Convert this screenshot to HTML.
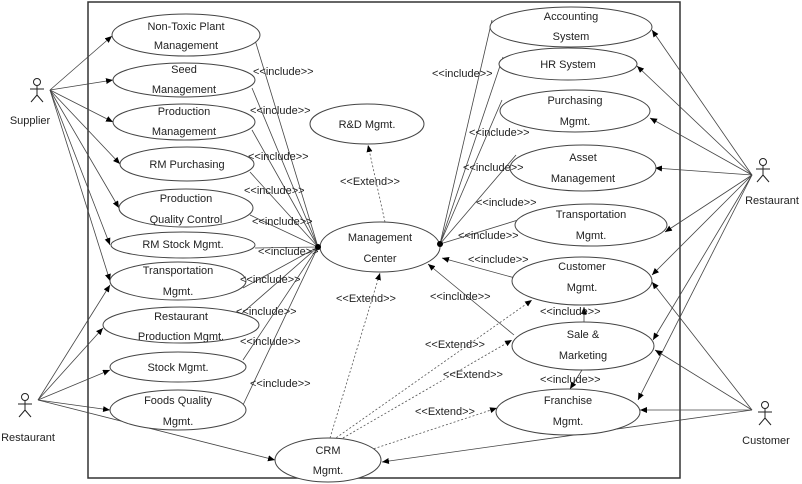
<!DOCTYPE html>
<html><head><style>
html,body{margin:0;padding:0;background:#fff;}
svg{display:block;}
text{font-family:"Liberation Sans",sans-serif;font-size:11px;fill:#222;}
</style></head><body>
<svg width="802" height="484" viewBox="0 0 802 484" xmlns="http://www.w3.org/2000/svg">
<defs>
<marker id="a" markerWidth="8" markerHeight="8" refX="7" refY="3" orient="auto" markerUnits="userSpaceOnUse"><path d="M0,0 L7,3 L0,6 z" fill="#000"/></marker>
</defs>
<rect x="88" y="2" width="592" height="476" fill="none" stroke="#333" stroke-width="1.5"/>
<g fill="none" stroke="#444" stroke-width="0.8">
<!-- supplier -->
<line x1="50" y1="90" x2="112" y2="36" marker-end="url(#a)"/>
<line x1="50" y1="90" x2="113" y2="80" marker-end="url(#a)"/>
<line x1="50" y1="90" x2="113" y2="122" marker-end="url(#a)"/>
<line x1="50" y1="90" x2="120" y2="164" marker-end="url(#a)"/>
<line x1="50" y1="90" x2="119" y2="208" marker-end="url(#a)"/>
<line x1="50" y1="90" x2="110" y2="245" marker-end="url(#a)"/>
<line x1="50" y1="90" x2="110" y2="281" marker-end="url(#a)"/>
<!-- left restaurant -->
<line x1="38" y1="400" x2="110" y2="285" marker-end="url(#a)"/>
<line x1="38" y1="400" x2="103" y2="328" marker-end="url(#a)"/>
<line x1="38" y1="400" x2="110" y2="370" marker-end="url(#a)"/>
<line x1="38" y1="400" x2="110" y2="410" marker-end="url(#a)"/>
<line x1="38" y1="400" x2="275" y2="460" marker-end="url(#a)"/>
<!-- right restaurant -->
<line x1="752" y1="175" x2="652" y2="30" marker-end="url(#a)"/>
<line x1="752" y1="175" x2="637" y2="66" marker-end="url(#a)"/>
<line x1="752" y1="175" x2="650" y2="118" marker-end="url(#a)"/>
<line x1="752" y1="175" x2="655" y2="168" marker-end="url(#a)"/>
<line x1="752" y1="175" x2="665" y2="232" marker-end="url(#a)"/>
<line x1="752" y1="175" x2="652" y2="275" marker-end="url(#a)"/>
<line x1="752" y1="175" x2="653" y2="340" marker-end="url(#a)"/>
<line x1="752" y1="175" x2="638" y2="400" marker-end="url(#a)"/>
<!-- customer -->
<line x1="752" y1="410" x2="652" y2="282" marker-end="url(#a)"/>
<line x1="752" y1="410" x2="655" y2="350" marker-end="url(#a)"/>
<line x1="752" y1="410" x2="640" y2="410" marker-end="url(#a)"/>
<line x1="752" y1="410" x2="382" y2="462" marker-end="url(#a)"/>
<!-- includes left -->
<line x1="255" y1="40" x2="318" y2="247"/>
<line x1="252" y1="88" x2="318" y2="247"/>
<line x1="252" y1="130" x2="318" y2="247"/>
<line x1="250" y1="172" x2="318" y2="247"/>
<line x1="250" y1="215" x2="318" y2="247"/>
<line x1="255" y1="248" x2="318" y2="247"/>
<line x1="243" y1="288" x2="318" y2="247"/>
<line x1="240" y1="315" x2="318" y2="247"/>
<line x1="243" y1="360" x2="318" y2="247"/>
<line x1="243" y1="405" x2="318" y2="247"/>
<!-- includes right -->
<line x1="492" y1="20" x2="440" y2="244"/>
<line x1="503" y1="57" x2="440" y2="244"/>
<line x1="502" y1="100" x2="440" y2="244"/>
<line x1="516" y1="155" x2="440" y2="244"/>
<line x1="518" y1="220" x2="440" y2="244"/>
<line x1="515" y1="278" x2="442" y2="258" marker-end="url(#a)"/>
<line x1="514" y1="335" x2="428" y2="264" marker-end="url(#a)"/>
<line x1="584" y1="322" x2="584" y2="307" marker-end="url(#a)"/>
<line x1="582" y1="370" x2="570" y2="389" marker-end="url(#a)"/>
</g>
<g fill="none" stroke="#555" stroke-width="0.8" stroke-dasharray="2,2">
<line x1="385" y1="222" x2="368" y2="145" marker-end="url(#a)"/>
<line x1="330" y1="438" x2="380" y2="273" marker-end="url(#a)"/>
<line x1="333" y1="440" x2="532" y2="300" marker-end="url(#a)"/>
<line x1="336" y1="442" x2="512" y2="340" marker-end="url(#a)"/>
<line x1="370" y1="450" x2="497" y2="408" marker-end="url(#a)"/>
</g>
<g fill="#fff" stroke="#444" stroke-width="1">
<ellipse cx="186" cy="35" rx="74" ry="21"/>
<ellipse cx="184" cy="80" rx="71" ry="17"/>
<ellipse cx="184" cy="122" rx="71" ry="18"/>
<ellipse cx="187" cy="164" rx="67" ry="17"/>
<ellipse cx="186" cy="208" rx="67" ry="19"/>
<ellipse cx="183" cy="245" rx="72" ry="13"/>
<ellipse cx="178" cy="281" rx="68" ry="19"/>
<ellipse cx="181" cy="325" rx="78" ry="18"/>
<ellipse cx="178" cy="367" rx="68" ry="15"/>
<ellipse cx="178" cy="410" rx="68" ry="20"/>
<ellipse cx="328" cy="460" rx="53" ry="22"/>
<ellipse cx="367" cy="124" rx="57" ry="20"/>
<ellipse cx="380" cy="247" rx="60" ry="25"/>
<ellipse cx="571" cy="27" rx="81" ry="20"/>
<ellipse cx="568" cy="64" rx="69" ry="16"/>
<ellipse cx="575" cy="111" rx="75" ry="21"/>
<ellipse cx="583" cy="168" rx="73" ry="23"/>
<ellipse cx="591" cy="225" rx="76" ry="21"/>
<ellipse cx="582" cy="281" rx="70" ry="24"/>
<ellipse cx="583" cy="346" rx="71" ry="24"/>
<ellipse cx="568" cy="412" rx="72" ry="23"/>
</g>
<circle cx="318" cy="247" r="3" fill="#000"/><circle cx="440" cy="244" r="3" fill="#000"/>
<g text-anchor="middle">
<text x="186" y="30">Non-Toxic Plant</text><text x="186" y="49">Management</text>
<text x="184" y="73">Seed</text><text x="184" y="93">Management</text>
<text x="184" y="115">Production</text><text x="184" y="135">Management</text>
<text x="187" y="168">RM Purchasing</text>
<text x="186" y="202">Production</text><text x="186" y="223">Quality Control</text>
<text x="183" y="248">RM Stock Mgmt.</text>
<text x="178" y="274">Transportation</text><text x="178" y="295">Mgmt.</text>
<text x="181" y="320">Restaurant</text><text x="181" y="340">Production Mgmt.</text>
<text x="178" y="371">Stock Mgmt.</text>
<text x="178" y="404">Foods Quality</text><text x="178" y="425">Mgmt.</text>
<text x="328" y="454">CRM</text><text x="328" y="474">Mgmt.</text>
<text x="367" y="128">R&amp;D Mgmt.</text>
<text x="380" y="241">Management</text><text x="380" y="262">Center</text>
<text x="571" y="20">Accounting</text><text x="571" y="40">System</text>
<text x="568" y="68">HR System</text>
<text x="575" y="104">Purchasing</text><text x="575" y="125">Mgmt.</text>
<text x="583" y="161">Asset</text><text x="583" y="182">Management</text>
<text x="591" y="218">Transportation</text><text x="591" y="239">Mgmt.</text>
<text x="582" y="270">Customer</text><text x="582" y="291">Mgmt.</text>
<text x="583" y="338">Sale &amp;</text><text x="583" y="359">Marketing</text>
<text x="568" y="404">Franchise</text><text x="568" y="425">Mgmt.</text>
<text x="30" y="124">Supplier</text>
<text x="28" y="441">Restaurant</text>
<text x="772" y="204">Restaurant</text>
<text x="766" y="444">Customer</text>
</g>
<g font-size="10">
<text x="253" y="75">&lt;&lt;include&gt;&gt;</text>
<text x="250" y="114">&lt;&lt;include&gt;&gt;</text>
<text x="248" y="160">&lt;&lt;include&gt;&gt;</text>
<text x="244" y="194">&lt;&lt;include&gt;&gt;</text>
<text x="252" y="225">&lt;&lt;include&gt;&gt;</text>
<text x="258" y="255">&lt;&lt;include&gt;&gt;</text>
<text x="240" y="283">&lt;&lt;include&gt;&gt;</text>
<text x="236" y="315">&lt;&lt;include&gt;&gt;</text>
<text x="240" y="345">&lt;&lt;include&gt;&gt;</text>
<text x="250" y="387">&lt;&lt;include&gt;&gt;</text>
<text x="340" y="185">&lt;&lt;Extend&gt;&gt;</text>
<text x="336" y="302">&lt;&lt;Extend&gt;&gt;</text>
<text x="432" y="77">&lt;&lt;include&gt;&gt;</text>
<text x="469" y="136">&lt;&lt;include&gt;&gt;</text>
<text x="463" y="171">&lt;&lt;include&gt;&gt;</text>
<text x="476" y="206">&lt;&lt;include&gt;&gt;</text>
<text x="458" y="239">&lt;&lt;include&gt;&gt;</text>
<text x="468" y="263">&lt;&lt;include&gt;&gt;</text>
<text x="430" y="300">&lt;&lt;include&gt;&gt;</text>
<text x="540" y="315">&lt;&lt;include&gt;&gt;</text>
<text x="540" y="383">&lt;&lt;include&gt;&gt;</text>
<text x="425" y="348">&lt;&lt;Extend&gt;&gt;</text>
<text x="443" y="378">&lt;&lt;Extend&gt;&gt;</text>
<text x="415" y="415">&lt;&lt;Extend&gt;&gt;</text>
</g>
<g fill="none" stroke="#222" stroke-width="1">
<circle cx="37" cy="82" r="3.5"/><line x1="37" y1="86" x2="37" y2="95"/><line x1="30" y1="89" x2="44" y2="89"/><line x1="37" y1="95" x2="31" y2="102"/><line x1="37" y1="95" x2="43" y2="102"/>
<circle cx="25" cy="397" r="3.5"/><line x1="25" y1="401" x2="25" y2="410"/><line x1="18" y1="404" x2="32" y2="404"/><line x1="25" y1="410" x2="19" y2="417"/><line x1="25" y1="410" x2="31" y2="417"/>
<circle cx="763" cy="162" r="3.5"/><line x1="763" y1="166" x2="763" y2="175"/><line x1="756" y1="169" x2="770" y2="169"/><line x1="763" y1="175" x2="757" y2="182"/><line x1="763" y1="175" x2="769" y2="182"/>
<circle cx="765" cy="405" r="3.5"/><line x1="765" y1="409" x2="765" y2="418"/><line x1="758" y1="412" x2="772" y2="412"/><line x1="765" y1="418" x2="759" y2="425"/><line x1="765" y1="418" x2="771" y2="425"/>
</g>
</svg>
</body></html>
